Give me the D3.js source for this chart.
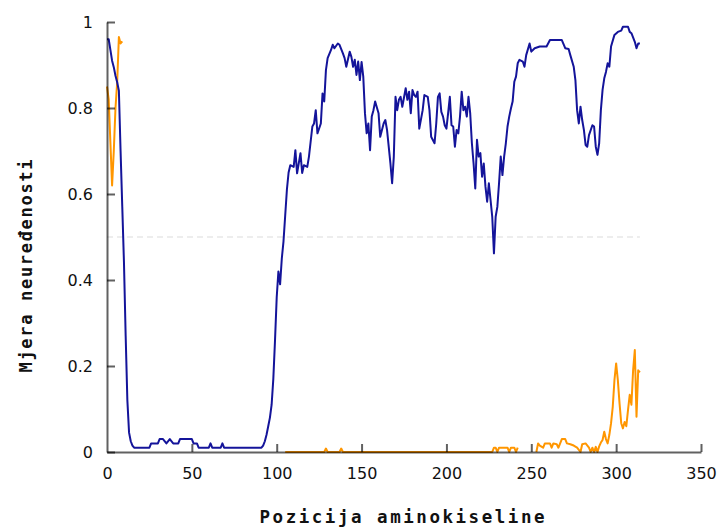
<!DOCTYPE html>
<html>
<head>
<meta charset="utf-8">
<script src="https://cdn.jsdelivr.net/npm/d3@7"></script>
<style>
  html, body { margin: 0; padding: 0; background: #fff; }
  svg { display: block; }
</style>
</head>
<body>
<svg id="chart" width="723" height="531"></svg>
<script>
// ---- Data ----
const xTicks = [0, 50, 100, 150, 200, 250, 300, 350];
const yTicks = [0, 0.2, 0.4, 0.6, 0.8, 1];
const yTickLabels = ["0", "0.2", "0.4", "0.6", "0.8", "1"];
const xTitle = "Pozicija aminokiseline";
const yTitle = "Mjera neuređenosti";
const threshold = 0.5;
const thresholdRange = [0, 314];

const bluePos = [0,1,2,3,4,5,6,7,8,9,10,11,12,13,14,15,16,25,26,30,31,33,35,37,39,42,43,50,51,53,54,60,61,62,67,68,69,91,92,93,94,95,96,97,98,99,100,101,102,103,104,105,106,107,108,
  110,111,112,114,115,116,118,119,121,122,123,124,126,127,128,129,130,132,133,134,136,137,139,140,141,143,144,145,146,147,148,149,150,151,152,153,154,155,156,157,158,160,161,163,164,165,
  167,168,169,170,171,172,173,174,176,177,178,179,180,181,182,183,184,186,187,189,190,191,193,194,195,196,197,198,199,200,201,202,203,204,205,206,207,208,209,210,211,212,213,214,
  215,216,217,218,219,220,221,222,223,224,225,226,227,228,229,230,231,232,233,234,235,236,237,238,239,240,241,242,243,245,246,247,249,250,252,255,259,261,266,268,270,272,273,275,276,277,278,279,280,281,282,283,284,286,287,288,289,290,291,292,293,294,295,296,297,299,301,303,304,307,308,309,311,312,313,314];
const blueVal = [0.96,0.96,0.935,0.91,0.895,0.875,0.86,0.84,0.70,0.57,0.44,0.27,0.12,0.045,0.025,0.015,0.01,0.01,0.02,0.02,0.03,0.03,0.02,0.03,0.02,0.02,0.03,0.03,0.02,0.02,0.01,0.01,0.02,0.01,0.01,0.02,0.01,0.01,0.015,0.025,0.04,0.06,0.08,0.11,0.17,0.26,0.36,0.42,0.39,0.45,0.49,0.55,0.61,0.65,0.667,
  0.663,0.702,0.648,0.695,0.649,0.667,0.663,0.687,0.757,0.764,0.795,0.741,0.764,0.834,0.815,0.888,0.916,0.935,0.947,0.939,0.95,0.947,0.927,0.916,0.896,0.931,0.919,0.896,0.912,0.877,0.908,0.865,0.907,0.873,0.788,0.741,0.764,0.702,0.78,0.795,0.815,0.788,0.733,0.764,0.772,0.749,
  0.671,0.625,0.687,0.826,0.795,0.819,0.826,0.803,0.846,0.819,0.838,0.788,0.842,0.83,0.826,0.838,0.752,0.795,0.83,0.826,0.795,0.733,0.718,0.764,0.826,0.834,0.791,0.78,0.76,0.752,0.788,0.826,0.76,0.757,0.71,0.749,0.741,0.78,0.838,0.795,0.803,0.78,0.826,0.788,
  0.718,0.671,0.613,0.726,0.687,0.695,0.64,0.671,0.617,0.582,0.625,0.586,0.547,0.462,0.547,0.57,0.625,0.687,0.644,0.687,0.718,0.757,0.78,0.799,0.815,0.861,0.873,0.904,0.912,0.908,0.896,0.923,0.95,0.931,0.939,0.943,0.943,0.958,0.958,0.958,0.939,0.937,0.923,0.896,0.865,0.795,0.764,0.803,0.772,0.749,0.714,0.71,0.737,0.76,0.757,0.71,0.691,0.718,0.795,0.842,0.869,0.884,0.904,0.896,0.943,0.97,0.977,0.98,0.989,0.989,0.977,0.974,0.954,0.939,0.95,0.95];

// orange series: null marks residues without a value (gaps in the line)
const orangePos = [0,1,2,3,4,5,6,7,8,9,10,
  105,128,129,130,137,138,139,227,228,229,230,231,236,237,238,240,241,242,243,
  253,254,255,257,258,261,262,263,265,266,267,268,270,271,273,275,277,279,280,282,284,285,286,287,288,289,290,291,292,293,294,295,296,297,298,299,300,301,302,303,304,305,306,307,308,309,310,311,312,313,314];
const orangeVal = [0.85,0.82,0.72,0.62,0.70,0.80,0.86,0.965,0.95,0.955,null,
  0,0,0.008,0,0,0.008,0,0,0.01,0.01,0,0.01,0.01,0,0.01,0.01,0,0.01,null,
  0,0.02,0.015,0.01,0.02,0.02,0.01,0.02,0.018,0.01,0.02,0.03,0.03,0.02,0.018,0.015,0.01,0,0.018,0.02,0.01,0,0.01,0,0.012,0,0.013,0.022,0.028,0.047,0.03,0.02,0.04,0.067,0.105,0.167,0.206,0.167,0.113,0.067,0.055,0.07,0.06,0.098,0.133,0.11,0.19,0.237,0.082,0.19,0.185];

// ---- Layout ----
const svg = d3.select("#chart");
const margin = {left: 107, right: 22, top: 22, bottom: 79};
const W = 723, H = 531;
const x = d3.scaleLinear().domain([0, 350]).range([margin.left, W - margin.right]);
const y = d3.scaleLinear().domain([0, 1]).range([H - margin.bottom, margin.top]);

const blue = bluePos.map((p, i) => ({p, v: blueVal[i]}));
const orange = orangePos.map((p, i) => ({p, v: orangeVal[i]}));

// threshold dashed line
svg.append("line")
  .attr("x1", x(thresholdRange[0])).attr("x2", x(thresholdRange[1]))
  .attr("y1", y(threshold)).attr("y2", y(threshold))
  .attr("stroke", "#dcdcdc").attr("stroke-width", 1.2)
  .attr("stroke-dasharray", "6,4");

const line = d3.line().defined(d => d.v !== null).x(d => x(d.p)).y(d => y(d.v));

svg.append("path").datum(orange)
  .attr("fill", "none").attr("stroke", "#ff9600").attr("stroke-width", 2)
  .attr("stroke-linejoin", "round").attr("d", line);

svg.append("path").datum(blue)
  .attr("fill", "none").attr("stroke", "#14149a").attr("stroke-width", 2)
  .attr("stroke-linejoin", "round").attr("d", line);

// axes (ticks pointing inward)
const axisColor = "rgba(0,0,0,0.62)";
const xAxis = svg.append("g").attr("transform", `translate(0,${y(0)})`)
  .call(d3.axisBottom(x).tickValues(xTicks).tickSize(-8).tickPadding(16).tickSizeOuter(0).tickFormat(d3.format("d")));
const yAxis = svg.append("g").attr("transform", `translate(${x(0)},0)`)
  .call(d3.axisLeft(y).tickValues(yTicks).tickSize(-8).tickPadding(14).tickSizeOuter(0).tickFormat((d, i) => yTickLabels[i]));

[xAxis, yAxis].forEach(g => {
  g.select(".domain").attr("stroke", axisColor).attr("stroke-width", 2);
  g.selectAll(".tick line").attr("stroke", axisColor).attr("stroke-width", 2);
  g.selectAll(".tick text").attr("fill", "#111")
    .style("font-family", "'DejaVu Sans', sans-serif").style("font-size", "16px");
});
xAxis.select(".tick line").remove();

// axis titles
svg.append("text")
  .attr("x", 402).attr("y", 523)
  .attr("text-anchor", "middle")
  .attr("textLength", 285).attr("lengthAdjust", "spacing")
  .style("font-family", "'DejaVu Sans Mono', monospace").style("font-weight", "bold").style("font-size", "17.5px")
  .attr("fill", "#111")
  .text(xTitle);

svg.append("text")
  .attr("transform", "translate(32,266) rotate(-90)")
  .attr("text-anchor", "middle")
  .attr("textLength", 213).attr("lengthAdjust", "spacing")
  .style("font-family", "'DejaVu Sans Mono', monospace").style("font-weight", "bold").style("font-size", "17px")
  .attr("fill", "#111")
  .text(yTitle);
</script>
</body>
</html>
